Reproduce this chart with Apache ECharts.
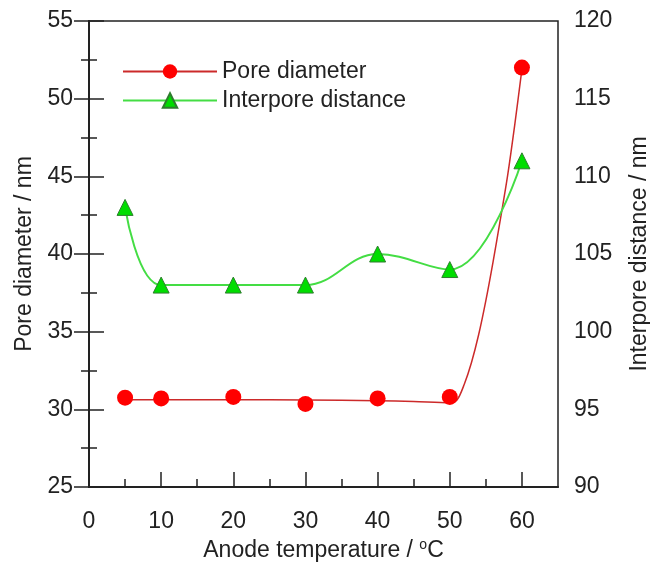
<!DOCTYPE html>
<html>
<head>
<meta charset="utf-8">
<script src="https://cdn.jsdelivr.net/npm/echarts@6/dist/echarts.min.js"></script>
<style>
  html, body { margin: 0; padding: 0; background: #fff; }
  #main { width: 650px; height: 563px; }
</style>
</head>
<body>
<div id="main"></div>
<script>
// measured points
var temperature = [5, 10, 20, 30, 40, 50, 60];
var poreDiameter = [30.75, 30.7, 30.8, 30.35, 30.7, 30.8, 52];
var interporeDistance = [108, 103, 103, 103, 105, 104, 111];
// fitted pore diameter curve
var poreFitT = [5, 10, 20, 30, 40, 45, 50, 51, 52, 53, 54, 55, 56, 57, 58, 59, 60];
var poreFitD = [30.62, 30.62, 30.62, 30.6, 30.55, 30.5, 30.42, 30.6, 31.6, 33.0, 34.8, 37.0, 39.5, 42.2, 45.0, 48.3, 51.9];
var xMajorTicks = [0, 10, 20, 30, 40, 50, 60];
var xMinorTicks = [5, 15, 25, 35, 45, 55];

var FONT = 'Liberation Sans';
var TXT = '#222';

function pairs(xs, ys) {
    return xs.map(function (x, i) { return [x, ys[i]]; });
}

var myChart = echarts.init(document.getElementById('main'));
var option = {
    animation: false,
    textStyle: { fontFamily: FONT, color: TXT },
    grid: {
        left: 89, right: 92, top: 21, bottom: 76,
        outerBoundsMode: 'none',
        containLabel: false,
        show: true, borderColor: '#222', borderWidth: 1.5, backgroundColor: 'transparent'
    },
    legend: {
        orient: 'vertical',
        left: 117,
        top: 55,
        itemWidth: 94,
        itemHeight: 18,
        itemGap: 6,
        textStyle: { fontSize: 23, color: TXT, fontFamily: FONT },
        data: ['Pore diameter', 'Interpore distance']
    },
    xAxis: [
        {
            type: 'value', min: 0, max: 65,
            name: 'Anode temperature / {sup|o}C',
            nameLocation: 'middle', nameGap: 47,
            nameTextStyle: {
                fontSize: 23, color: TXT,
                rich: { sup: { fontSize: 14, color: TXT, padding: [0, 0, 12, 0] } }
            },
            axisLine: { lineStyle: { color: '#222', width: 2 } },
            axisTick: { inside: true, length: 15, customValues: xMajorTicks, lineStyle: { color: '#222', width: 1.5 } },
            axisLabel: { customValues: xMajorTicks, fontSize: 23, color: TXT, margin: 23 },
            splitLine: { show: false }
        },
        {
            type: 'value', min: 0, max: 65, position: 'bottom',
            axisLine: { show: false },
            axisTick: { inside: true, length: 8, customValues: xMinorTicks, lineStyle: { color: '#222', width: 1.5 } },
            axisLabel: { show: false },
            splitLine: { show: false }
        }
    ],
    yAxis: [
        {
            type: 'value', min: 25, max: 55, interval: 5,
            name: 'Pore diameter / nm',
            nameLocation: 'middle', nameGap: 53,
            nameTextStyle: { fontSize: 23, color: TXT },
            axisLine: { show: true, lineStyle: { color: '#222', width: 2 } },
            axisTick: { inside: true, length: 15, lineStyle: { color: '#222', width: 1.5 } },
            minorTick: { show: true, splitNumber: 2, length: 8, lineStyle: { color: '#222', width: 1.5 } },
            axisLabel: { fontSize: 23, color: TXT, margin: 16 },
            splitLine: { show: false }
        },
        {
            type: 'value', min: 90, max: 120, interval: 5,
            name: 'Interpore distance / nm',
            nameLocation: 'middle', nameGap: 70,
            nameTextStyle: { fontSize: 23, color: TXT },
            axisLine: { show: true, lineStyle: { color: '#222', width: 2 } },
            axisTick: { inside: true, length: 15, lineStyle: { color: '#222', width: 1.5 } },
            minorTick: { show: true, splitNumber: 2, length: 8, lineStyle: { color: '#222', width: 1.5 } },
            axisLabel: { fontSize: 23, color: TXT, margin: 16 },
            splitLine: { show: false }
        }
    ],
    series: [
        {
            // fitted curve; also supplies the legend icon (line + circle)
            name: 'Pore diameter',
            type: 'line',
            yAxisIndex: 0,
            smooth: 0.3,
            symbol: 'circle',
            showSymbol: false,
            data: pairs(poreFitT, poreFitD),
            lineStyle: { color: '#cc2a2a', width: 1.5 },
            itemStyle: { color: '#ff0000', borderWidth: 0 },
            z: 2
        },
        {
            name: 'Pore diameter',
            type: 'scatter',
            yAxisIndex: 0,
            symbol: 'circle',
            symbolSize: 16,
            data: pairs(temperature, poreDiameter),
            itemStyle: { color: '#ff0000', borderWidth: 0, opacity: 1 },
            z: 3
        },
        {
            name: 'Interpore distance',
            type: 'line',
            yAxisIndex: 1,
            smooth: 0.4,
            symbol: 'triangle',
            symbolSize: 16,
            data: pairs(temperature, interporeDistance),
            lineStyle: { color: '#44dd44', width: 2 },
            itemStyle: { color: '#00dd00', borderColor: '#2e7d2e', borderWidth: 1 },
            z: 4
        }
    ]
};
myChart.setOption(option);
</script>
</body>
</html>
